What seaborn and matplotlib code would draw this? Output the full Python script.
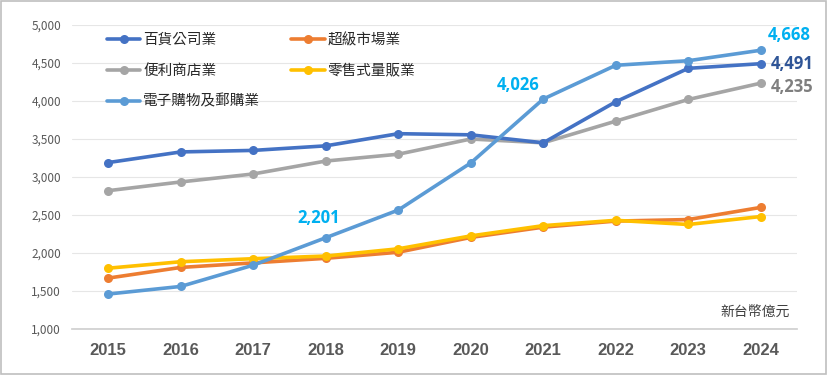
import pandas as pd
import numpy as np
import seaborn as sns
import matplotlib.pyplot as plt
from matplotlib.patches import Rectangle
from matplotlib.ticker import FuncFormatter

sns.set_theme(style='white')
plt.rcParams['font.family'] = ['Noto Sans CJK TC', 'DejaVu Sans']

years = [2015, 2016, 2017, 2018, 2019, 2020, 2021, 2022, 2023, 2024]
dept_store = [3190, 3330, 3350, 3410, 3570, 3555, 3450, 3990, 4430, 4491]
supermarket = [1670, 1810, 1870, 1930, 2010, 2205, 2340, 2420, 2440, 2600]
convenience = [2820, 2935, 3040, 3210, 3300, 3500, 3450, 3735, 4020, 4235]
hypermarket = [1800, 1885, 1925, 1960, 2055, 2225, 2360, 2430, 2375, 2480]
ecommerce = [1460, 1560, 1840, 2201, 2565, 3185, 4026, 4470, 4530, 4668]

names = ['百貨公司業', '超級市場業', '便利商店業', '零售式量販業', '電子購物及郵購業']
colors = ['#4472C4', '#ED7D31', '#A5A5A5', '#FFC000', '#5B9BD5']

df = pd.DataFrame({'year': [str(y) for y in years],
                   names[0]: dept_store, names[1]: supermarket,
                   names[2]: convenience, names[3]: hypermarket,
                   names[4]: ecommerce})
long = df.melt(id_vars='year', var_name='type', value_name='value')

fig = plt.figure(figsize=(8.28, 3.75), dpi=100)
ax = fig.add_axes([0.087, 0.1227, 0.8756, 0.8106])

# draw order: put e-commerce and dept store on top
draw_order = [names[2], names[1], names[3], names[0], names[4]]
handles = {}
for n in draw_order:
    c = colors[names.index(n)]
    sub = long[long['type'] == n]
    sns.lineplot(data=sub, x='year', y='value', ax=ax, color=c, lw=2.6,
                 marker='o', markersize=6.5, markeredgewidth=0, sort=False,
                 label=n)
    handles[n] = ax.get_lines()[-1]

ax.set_ylim(1000, 5000)
ax.set_xlim(-0.5, 9.5)
ax.set_yticks(range(1000, 5001, 500))
ax.yaxis.set_major_formatter(FuncFormatter(lambda v, p: f'{int(v):,}'))
ax.grid(axis='y', color='#E6E6E6', lw=0.8)
ax.set_axisbelow(True)
for s in ['top', 'right', 'left']:
    ax.spines[s].set_visible(False)
ax.spines['bottom'].set_color('#D0D0D0')
ax.tick_params(axis='y', labelsize=8.5, labelcolor='#595959', length=0, pad=8)
ax.tick_params(axis='x', labelsize=12, labelcolor='#595959', length=0, pad=10)
for t in ax.get_xticklabels():
    t.set_fontweight('bold')
    t.set_family(['Liberation Sans', 'DejaVu Sans'])
ax.set_xlabel('')
ax.set_ylabel('')

leg_order = [names[0], names[2], names[4], names[1], names[3]]
ax.legend([handles[n] for n in leg_order], leg_order, ncol=2, frameon=False,
          loc='upper left', bbox_to_anchor=(0.03, 1.018), fontsize=10.5,
          handlelength=2.3, handletextpad=0.2, columnspacing=2.1,
          labelspacing=1.15)

# data labels
lab = dict(fontsize=12, fontweight='bold', family=['Open Sans', 'DejaVu Sans'])
ax.annotate('4,668', (9, ecommerce[9]), xytext=(5, 11), textcoords='offset points',
            color='#00B0F0', ha='left', va='center', **lab)
ax.annotate('4,491', (9, dept_store[9]), xytext=(7, 0), textcoords='offset points',
            color='#2F5597', ha='left', va='center', **lab)
ax.annotate('4,235', (9, convenience[9]), xytext=(7, -3), textcoords='offset points',
            color='#7F7F7F', ha='left', va='center', **lab)
ax.annotate('4,026', (6, ecommerce[6]), xytext=(-3, 10), textcoords='offset points',
            color='#00B0F0', ha='right', va='center', **lab)
ax.annotate('2,201', (3, ecommerce[3]), xytext=(-5, 14), textcoords='offset points',
            color='#00B0F0', ha='center', va='center', **lab)

ax.text(0.99, 0.055, '新台幣億元', transform=ax.transAxes, ha='right', va='center',
        fontsize=10, color='#404040')

fig.patches.append(Rectangle((0.001, 0.002), 0.997, 0.995, transform=fig.transFigure,
                             fill=False, edgecolor='#BFBFBF', lw=1.2))

fig.savefig('out.png', dpi=100)
